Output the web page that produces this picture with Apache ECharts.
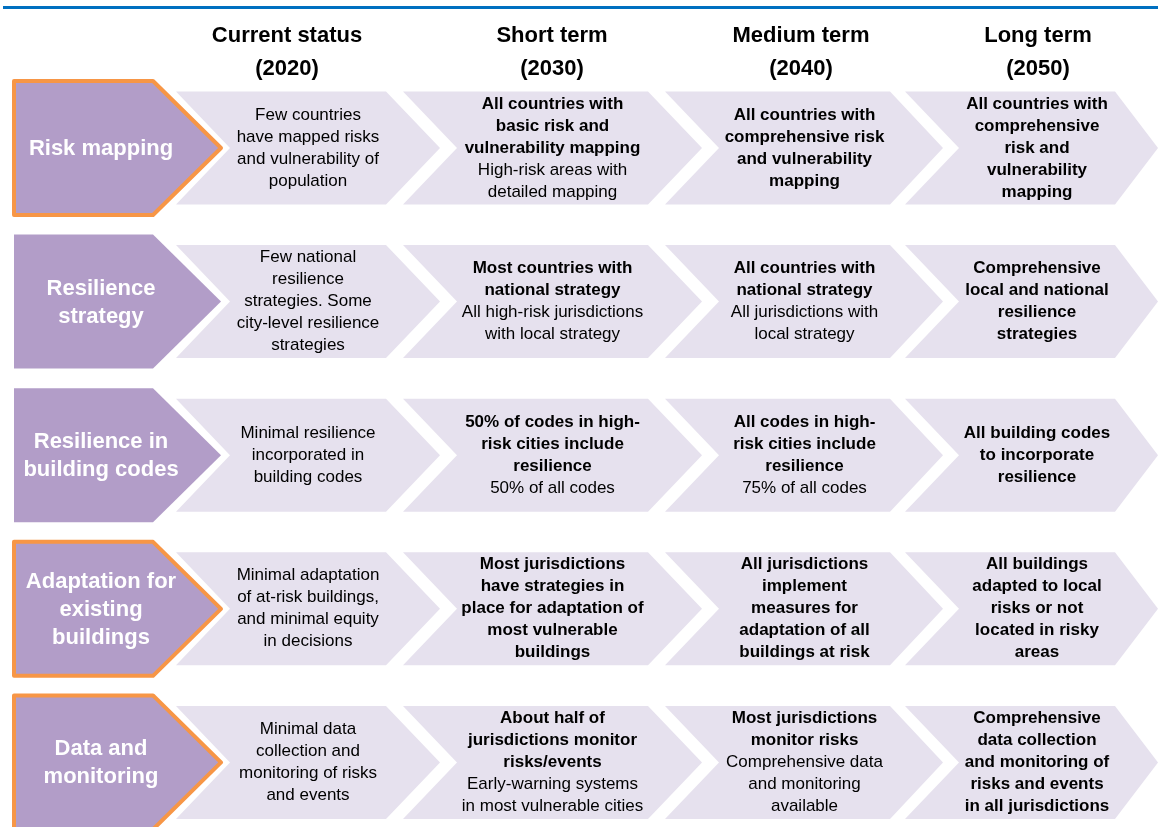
<!DOCTYPE html>
<html>
<head>
<meta charset="utf-8">
<script src="https://cdn.jsdelivr.net/npm/echarts@6/dist/echarts.min.js"></script>
<style>
html,body{margin:0;padding:0;background:#fff;}
#chart{width:1158px;height:827px;}
</style>
</head>
<body>
<div id="chart"></div>
<script>
// ---------- DATA ----------
const rowLabels = [
  'Risk mapping',
  'Resilience\nstrategy',
  'Resilience in\nbuilding codes',
  'Adaptation for\nexisting\nbuildings',
  'Data and\nmonitoring'
];
const highlightedRows = [0, 3, 4];
const stageHeaders = [
  'Current status\n(2020)',
  'Short term\n(2030)',
  'Medium term\n(2040)',
  'Long term\n(2050)'
];
// each cell: [bold part, normal part]
const currentStatus = [
  ['', 'Few countries\nhave mapped risks\nand vulnerability of\npopulation'],
  ['', 'Few national\nresilience\nstrategies. Some\ncity-level resilience\nstrategies'],
  ['', 'Minimal resilience\nincorporated in\nbuilding codes'],
  ['', 'Minimal adaptation\nof at-risk buildings,\nand minimal equity\nin decisions'],
  ['', 'Minimal data\ncollection and\nmonitoring of risks\nand events']
];
const shortTerm = [
  ['All countries with\nbasic risk and\nvulnerability mapping', 'High-risk areas with\ndetailed mapping'],
  ['Most countries with\nnational strategy', 'All high-risk jurisdictions\nwith local strategy'],
  ['50% of codes in high-\nrisk cities include\nresilience', '50% of all codes'],
  ['Most jurisdictions\nhave strategies in\nplace for adaptation of\nmost vulnerable\nbuildings', ''],
  ['About half of\njurisdictions monitor\nrisks/events', 'Early-warning systems\nin most vulnerable cities']
];
const mediumTerm = [
  ['All countries with\ncomprehensive risk\nand vulnerability\nmapping', ''],
  ['All countries with\nnational strategy', 'All jurisdictions with\nlocal strategy'],
  ['All codes in high-\nrisk cities include\nresilience', '75% of all codes'],
  ['All jurisdictions\nimplement\nmeasures for\nadaptation of all\nbuildings at risk', ''],
  ['Most jurisdictions\nmonitor risks', 'Comprehensive data\nand monitoring\navailable']
];
const longTerm = [
  ['All countries with\ncomprehensive\nrisk and\nvulnerability\nmapping', ''],
  ['Comprehensive\nlocal and national\nresilience\nstrategies', ''],
  ['All building codes\nto incorporate\nresilience', ''],
  ['All buildings\nadapted to local\nrisks or not\nlocated in risky\nareas', ''],
  ['Comprehensive\ndata collection\nand monitoring of\nrisks and events\nin all jurisdictions', '']
];
const stages = [currentStatus, shortTerm, mediumTerm, longTerm];

// ---------- LAYOUT (positions / sizes, in axis units / px) ----------
const STAGE_GEOM = [
  {left: 176, shoulder: 386, tip: 440, head: 287},
  {left: 403, shoulder: 648, tip: 702, head: 552},
  {left: 665, shoulder: 890, tip: 943, head: 801},
  {left: 905, shoulder: 1115, tip: 1158, head: 1038}
];
const NOTCH = 54;
const LABEL_GEOM = {left: 14, shoulder: 153, tip: 221, textX: 101};
const LABEL_HALF = 67;   // px
const CHEV_HALF = 56.5;  // px
const HEADER_OFFSET = 0.62;  // in row bands above first row centre
const ROW_BAND = 153.6;      // px per row
const FIRST_ROW_PX = 148;    // px of first row centre
const Y_MIN = -FIRST_ROW_PX / ROW_BAND;
const Y_MAX = Y_MIN + 827 / ROW_BAND;

const FONT = "'Liberation Sans', Arial, Helvetica, sans-serif";
const PURPLE = '#B29DC8';
const LIGHT = '#E6E1EE';
const ORANGE = '#F79646';

function richCell(cell) {
  const parts = [];
  if (cell[0]) cell[0].split('\n').forEach(l => parts.push('{b|' + l + '}'));
  if (cell[1]) cell[1].split('\n').forEach(l => parts.push('{n|' + l + '}'));
  return parts.join('\n');
}

// data items
const labelData = rowLabels.map((l, i) => ({value: [0, i], name: l}));
const cellData = [];
stages.forEach((st, s) => st.forEach((cell, r) => cellData.push({value: [s, r]})));
const headerData = stageHeaders.map((h, s) => ({value: [s, 0], name: h}));

const chart = echarts.init(document.getElementById('chart'), null, {renderer: 'canvas'});

const option = {
  backgroundColor: '#ffffff',
  animation: false,
  grid: {left: 0, right: 0, top: 0, bottom: 0, containLabel: false},
  xAxis: {type: 'value', min: 0, max: 1158, show: false},
  yAxis: {type: 'value', min: Y_MIN, max: Y_MAX, inverse: true, show: false},
  graphic: [
    {type: 'rect', shape: {x: 3, y: 6, width: 1155, height: 3}, style: {fill: '#0070C0'}, silent: true}
  ],
  series: [
    {
      type: 'custom',
      name: 'rows',
      clip: false,
      data: labelData,
      renderItem: function (params, api) {
        const r = api.value(1);
        const cy = api.coord([0, r])[1];
        const X = v => api.coord([v, r])[0];
        const g = LABEL_GEOM;
        const hl = highlightedRows.indexOf(r) >= 0;
        const pts = [
          [X(g.left), cy - LABEL_HALF], [X(g.shoulder), cy - LABEL_HALF], [X(g.tip), cy],
          [X(g.shoulder), cy + LABEL_HALF], [X(g.left), cy + LABEL_HALF]
        ];
        return {
          type: 'group',
          children: [
            {
              type: 'polygon', shape: {points: pts},
              style: {fill: PURPLE, stroke: hl ? ORANGE : null, lineWidth: hl ? 4 : 0, lineJoin: 'round'}
            },
            {
              type: 'text', x: X(g.textX), y: cy + 1,
              style: {
                text: rowLabels[r], align: 'center', verticalAlign: 'middle',
                fill: '#ffffff', font: 'bold 22px ' + FONT, lineHeight: 28
              }
            }
          ]
        };
      }
    },
    {
      type: 'custom',
      name: 'cells',
      clip: false,
      data: cellData,
      renderItem: function (params, api) {
        const s = api.value(0);
        const r = api.value(1);
        const g = STAGE_GEOM[s];
        const cy = api.coord([0, r])[1];
        const X = v => api.coord([v, r])[0];
        const top = cy - CHEV_HALF, bot = cy + CHEV_HALF;
        const pts = [
          [X(g.left), top], [X(g.shoulder), top], [X(g.tip), cy],
          [X(g.shoulder), bot], [X(g.left), bot], [X(g.left + NOTCH), cy]
        ];
        const cell = stages[s][r];
        return {
          type: 'group',
          children: [
            {type: 'polygon', shape: {points: pts}, style: {fill: LIGHT}},
            {
              type: 'text', x: X((g.left + NOTCH + g.shoulder) / 2), y: cy,
              style: {
                text: richCell(cell), align: 'center', verticalAlign: 'middle',
                fill: '#000', lineHeight: 22,
                rich: {
                  b: {fontFamily: FONT, fontSize: 17, fontWeight: 'bold', fill: '#000', lineHeight: 22},
                  n: {fontFamily: FONT, fontSize: 17, fontWeight: 'normal', fill: '#000', lineHeight: 22}
                }
              }
            }
          ]
        };
      }
    },
    {
      type: 'custom',
      name: 'headers',
      clip: false,
      data: headerData,
      renderItem: function (params, api) {
        const s = api.value(0);
        const g = STAGE_GEOM[s];
        const c0 = api.coord([g.head, 0]);
        const band = Math.abs(api.size([0, 1])[1]);
        return {
          type: 'text', x: c0[0], y: c0[1] - band * HEADER_OFFSET,
          style: {
            text: stageHeaders[s], align: 'center', verticalAlign: 'middle',
            fill: '#000', font: 'bold 22px ' + FONT, lineHeight: 33
          }
        };
      }
    }
  ]
};
chart.setOption(option);
</script>
</body>
</html>
